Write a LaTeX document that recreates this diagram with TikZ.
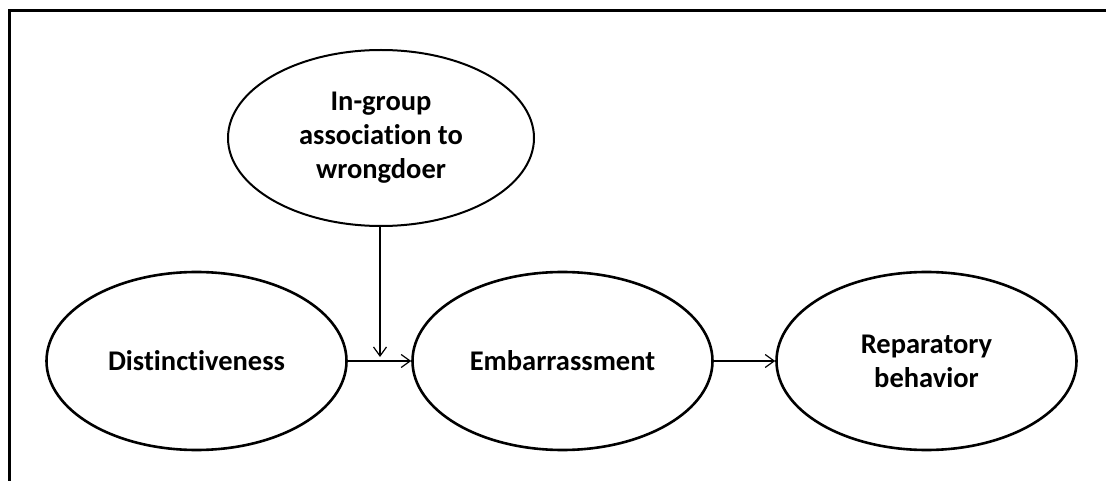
\documentclass[tikz,border=0pt]{standalone}
\usepackage{fontspec}
\setmainfont{Carlito}[Ligatures={NoCommon}]
\usetikzlibrary{shapes.geometric,arrows.meta}
\tikzset{
  oval/.style={ellipse, draw=black, line width=2.6pt, inner sep=0pt,
    minimum width=300pt, minimum height=178pt, align=center,
    font=\fontsize{28.5}{34}\selectfont\bfseries},
  link/.style={line width=1.2pt, -{Straight Barb[length=9pt,width=13pt,line width=1.2pt]}}
}
\begin{document}
\begin{tikzpicture}[x=1pt,y=-1pt]
\useasboundingbox (0,0) rectangle (1106,481);
\begin{scope}
\clip (0,0) rectangle (1106,481);
\draw[line width=3pt] (1120,10.5) -- (9.5,10.5) -- (9.5,500);
\end{scope}
\node[oval, line width=2pt, minimum width=306pt, minimum height=176pt] (grp) at (381,138) {In-group\\association to\\wrongdoer};
\node[oval] (dis) at (196.5,361) {Distinctiveness};
\node[oval] (emb) at (562.5,361) {Embarrassment};
\node[oval] (rep) at (926.5,361) {Reparatory\\behavior};
\coordinate (hit) at (380,357);
\draw[link] (dis.east) -- (emb.west);
\draw[link] (emb.east) -- (rep.west);
\draw[link] (grp.south -| hit) -- (hit);
\end{tikzpicture}
\end{document}
